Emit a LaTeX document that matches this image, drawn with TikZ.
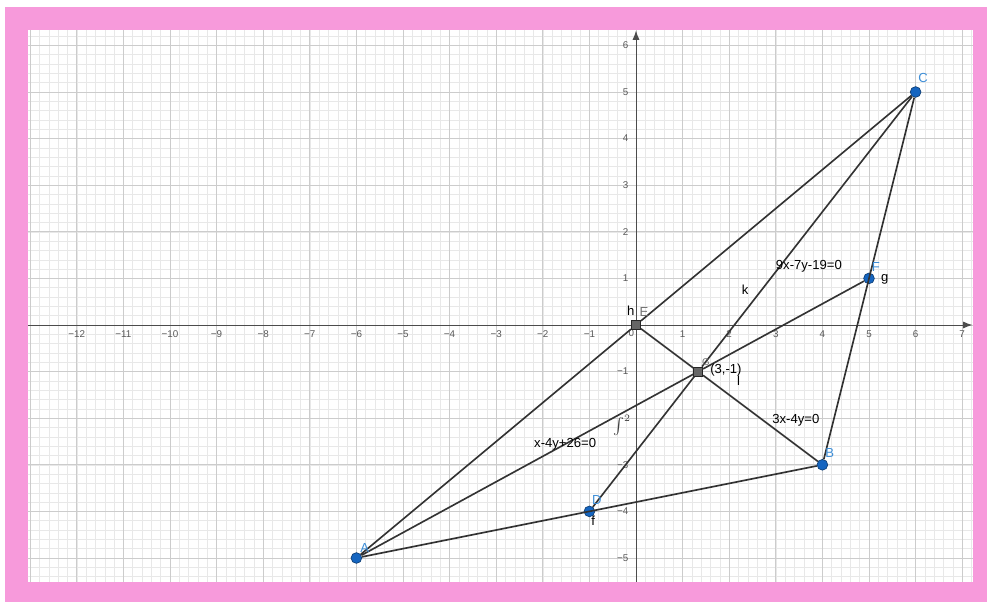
\documentclass[tikz,border=0pt]{standalone}
\usepackage{fontspec}
\setmainfont{Liberation Sans}
\usetikzlibrary{arrows.meta,positioning}
\definecolor{FramePink}{HTML}{F79ADB}
\definecolor{PointBlue}{HTML}{1565C0}
\definecolor{LabelBlue}{HTML}{3F8FD8}
\definecolor{LineGray}{HTML}{333333}
\definecolor{MinorGrid}{HTML}{E8E8E8}
\definecolor{MajorGrid}{HTML}{CCCCCC}
\newcommand{\ticklbl}[1]{\ifnum#1<0 \char"2212\relax\number\numexpr-#1\relax\else#1\fi}

\begin{document}
\begin{tikzpicture}[>=Latex,
  pt/.style={circle,fill=PointBlue,draw=PointBlue!60!black,inner sep=0pt,minimum size=2.3mm},
  sq/.style={rectangle,fill=black!60,draw=black!85,inner sep=0pt,minimum size=2mm},
  seg/.style={LineGray,line width=1pt},
  lbl/.style={font=\fontsize{8}{9}\selectfont,inner sep=1pt},
  plbl/.style={lbl,text=LabelBlue},
  tick/.style={font=\fontsize{6}{7}\selectfont,text=black!65,inner sep=1pt}]
\useasboundingbox (-13.648,-5.944) rectangle (7.532,6.974);
\fill[FramePink] (-13.54,-5.944) rectangle (7.532,6.82);
\fill[white] (-13.05,-5.515) rectangle (7.23,6.33);
\begin{scope}
\clip (-13.05,-5.515) rectangle (7.23,6.33);
\draw[MinorGrid,line width=0.3pt,step=0.2] (-14,-6) grid (8,7);
\draw[MajorGrid,line width=0.5pt,step=1] (-14,-6) grid (8,7);
\end{scope}
% axes
\draw[->,black!70,line width=0.6pt] (-13.05,0) -- (7.22,0);
\draw[->,black!70,line width=0.6pt] (0,-5.515) -- (0,6.32);
\foreach \x in {-12,...,-1,1,2,...,7}
  \node[tick,below] at (\x,-0.08) {\ticklbl{\x}};
\foreach \y in {-5,-4,-3,-1,1,2,...,6}
  \node[tick,left] at (-0.12,\y) {\ticklbl{\y}};
\node[tick,below left] at (0,-0.06) {0};
% points
\node[pt] (A) at (-6,-5) {};
\node[pt] (B) at (4,-3) {};
\node[pt] (C) at (6,5) {};
\node[pt] (D) at (-1,-4) {};
\node[pt] (F) at (5,1) {};
\node[sq] (E) at (0,0) {};
\node[sq] (G) at (4/3,-1) {};
% triangle and medians
\draw[seg] (A) -- (B) -- (C);
\draw[seg] (C) -- (E) -- (A);
\draw[seg] (C) -- (G) -- (D);
\draw[seg] (A) -- (G) -- (F);
\draw[seg] (B) -- (G) -- (E);
% labels
\node[plbl] (lA) at (-5.82,-4.78) {A};
\node[plbl] (lB) at (4.16,-2.75) {B};
\node[plbl] (lC) at (6.16,5.3) {C};
\node[plbl] (lD) at (-0.84,-3.76) {D};
\node[plbl] (lF) at (5.15,1.24) {F};
\node[lbl,text=black!55] (lE) at (0.17,0.28) {E};
\node[lbl] (lh) at (-0.11,0.3) {h};
\node[lbl,text=black!55,font=\fontsize{6}{7}\selectfont] (lG) at (1.5,-0.8) {G};
\node[lbl] (lGc) at (1.93,-0.97) {(3,-1)};
\node[lbl] (ll) at (2.2,-1.2) {l};
\node[lbl] (lg) at (5.34,0.99) {g};
\node[lbl] (lk) at (2.34,0.75) {k};
\node[lbl] (lf) at (-0.92,-4.2) {f};
\node[lbl,text=black!75] (lint) at (-0.3,-2.15) {$\int^2$};
\node[lbl] (eqCD) at (3.71,1.27) {9x-7y-19=0};
\node[lbl] (eqBE) at (3.43,-2.04) {3x-4y=0};
\node[lbl] (eqAF) at (-1.52,-2.55) {x-4y+26=0};
\end{tikzpicture}
\end{document}
